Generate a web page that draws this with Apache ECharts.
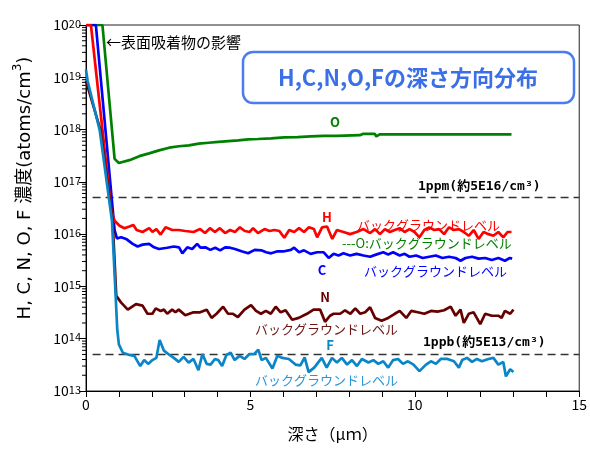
<!DOCTYPE html>
<html><head><meta charset="utf-8">
<script src="https://cdn.jsdelivr.net/npm/echarts@6/dist/echarts.min.js"></script>
<style>html,body{margin:0;padding:0;background:#fff}#c{width:590px;height:450px}</style>
</head><body><div id="c"></div>
<script>
// ---- data (depth in µm, concentration in atoms/cm3) ----
const xTickLabels = [0, 5, 10, 15];
const yExponents = [13, 14, 15, 16, 17, 18, 19, 20];
const ppmLevel = 5e16;
const ppbLevel = 5e13;

const oData = [[0,1e20],[0.5,1e20],[0.87,2.75e17],[1.0,2.3e17],[1.32,2.6e17],[1.62,3.1e17],[1.92,3.5e17],[2.22,4.0e17],[2.53,4.5e17],[2.83,4.8e17],[3.13,5.0e17],[3.43,5.4e17],[3.73,5.6e17],[4.03,5.8e17],[4.33,6.0e17],[4.63,6.2e17],[4.93,6.5e17],[5.23,6.6e17],[5.63,6.8e17],[6.03,7.1e17],[6.43,7.2e17],[6.83,7.4e17],[7.23,7.6e17],[7.63,7.6e17],[8.33,7.8e17],[8.43,8.3e17],[8.78,8.3e17],[8.83,7.4e17],[8.93,8.1e17],[12.94,8.1e17]];

const hData = [[0,1e20],[0.15,1e20],[0.77,2.8e16],[0.87,1.8e16],[1.02,1.45e16],[1.17,1.3e16],[1.32,1.4e16],[1.44,1.5e16],[1.54,1.2e16],[1.72,1.1e16],[1.92,1.3e16],[2.02,1.1e16],[2.14,1.25e16],[2.27,9.8e15],[2.42,1.35e16],[2.62,1.2e16],[2.82,1.2e16],[3.02,1.15e16],[3.27,1.1e16],[3.47,1.25e16],[3.62,1.05e16],[3.77,1.3e16],[3.92,1.1e16],[4.07,1.3e16],[4.23,1.05e16],[4.38,1.2e16],[4.53,1.1e16],[4.68,1.35e16],[4.83,1.15e16],[4.98,1.1e16],[5.08,1.3e16],[5.23,1.05e16],[5.43,1.25e16],[5.58,1.15e16],[5.73,1.2e16],[5.88,1.15e16],[6.03,8.5e15],[6.18,1.2e16],[6.33,1.1e16],[6.48,1.3e16],[6.63,1.1e16],[6.78,1.35e16],[6.93,1.25e16],[7.03,8.7e15],[7.18,1.35e16],[7.33,1.4e16],[7.49,8.1e15],[7.63,1.2e16],[7.83,1.1e16],[8.03,1.0e16],[8.23,1.1e16],[8.44,1.25e16],[8.64,1.05e16],[8.79,1.25e16],[8.94,1.0e16],[9.09,1.25e16],[9.24,1.1e16],[9.39,1.2e16],[9.54,1.3e16],[9.69,1.1e16],[9.84,1.25e16],[9.99,1.1e16],[10.14,8.7e15],[10.29,1.2e16],[10.44,1.35e16],[10.59,1.2e16],[10.74,1.25e16],[10.89,1.0e16],[11.04,1.35e16],[11.19,1.2e16],[11.34,1.25e16],[11.49,1.1e16],[11.64,9.3e15],[11.79,1.2e16],[11.94,8.1e15],[12.09,1.1e16],[12.24,1.0e16],[12.39,9.3e15],[12.54,1.1e16],[12.69,8.7e15],[12.82,1.1e16],[12.94,1.1e16]];

const cData = [[0,1e20],[0.3,1e20],[0.87,1.2e16],[0.94,8.3e15],[1.07,8.7e15],[1.22,8.1e15],[1.42,6.5e15],[1.57,5.8e15],[1.72,6.3e15],[1.92,6.5e15],[2.07,5.6e15],[2.22,5.2e15],[2.47,5.5e15],[2.67,5.8e15],[2.83,5.6e15],[2.93,4.3e15],[3.08,5.6e15],[3.23,5.2e15],[3.38,6.5e15],[3.48,5.5e15],[3.63,5.6e15],[3.78,5.0e15],[3.93,5.5e15],[4.08,4.9e15],[4.23,5.6e15],[4.38,5.5e15],[4.53,5.2e15],[4.73,4.7e15],[4.93,4.3e15],[5.13,5.0e15],[5.33,4.9e15],[5.48,4.5e15],[5.63,4.3e15],[5.83,4.7e15],[6.03,4.7e15],[6.23,5.0e15],[6.33,5.5e15],[6.48,4.5e15],[6.63,4.9e15],[6.83,4.2e15],[7.03,4.5e15],[7.23,4.5e15],[7.38,3.5e15],[7.53,4.2e15],[7.68,3.9e15],[7.83,4.3e15],[8.03,3.9e15],[8.23,4.2e15],[8.44,3.9e15],[8.64,3.7e15],[8.84,4.1e15],[9.04,4.5e15],[9.19,4.1e15],[9.34,4.5e15],[9.54,3.9e15],[9.69,4.2e15],[9.84,3.7e15],[10.04,3.9e15],[10.24,3.5e15],[10.44,3.7e15],[10.64,3.9e15],[10.84,3.5e15],[11.04,3.7e15],[11.24,3.5e15],[11.39,3.1e15],[11.54,3.5e15],[11.74,3.7e15],[11.94,3.4e15],[12.14,3.5e15],[12.34,3.2e15],[12.54,3.5e15],[12.74,3.1e15],[12.89,3.5e15],[12.96,3.4e15]];

const nData = [[0,8.5e18],[0.04,8.1e18],[0.44,9.8e17],[0.81,1.8e16],[0.92,6.6e14],[1.07,4.9e14],[1.27,3.6e14],[1.52,4.6e14],[1.72,4.3e14],[1.87,3.0e14],[2.02,3.0e14],[2.12,3.8e14],[2.27,3.4e14],[2.37,3.6e14],[2.47,3.0e14],[2.62,3.6e14],[2.72,3.2e14],[2.82,3.6e14],[3.02,2.8e14],[3.27,3.2e14],[3.47,3.2e14],[3.67,3.6e14],[3.82,2.5e14],[3.97,3.0e14],[4.17,4.1e14],[4.32,3.0e14],[4.47,3.0e14],[4.62,2.6e14],[4.82,3.6e14],[5.02,4.4e14],[5.17,3.4e14],[5.32,3.0e14],[5.47,3.4e14],[5.62,3.0e14],[5.77,4.1e14],[5.92,3.2e14],[6.07,3.5e14],[6.27,2.3e14],[6.47,2.5e14],[6.72,3.0e14],[6.92,3.6e14],[7.12,3.6e14],[7.27,2.1e14],[7.42,2.75e14],[7.53,3.0e14],[7.73,3.0e14],[7.88,3.5e14],[8.04,3.0e14],[8.19,3.8e14],[8.34,3.0e14],[8.49,3.2e14],[8.64,4.0e14],[8.79,2.5e14],[8.99,2.2e14],[9.19,2.5e14],[9.39,3.0e14],[9.54,3.4e14],[9.74,2.5e14],[9.89,3.4e14],[10.09,3.2e14],[10.29,3.0e14],[10.49,3.4e14],[10.69,3.3e14],[10.89,3.5e14],[11.09,4.1e14],[11.24,2.75e14],[11.39,3.6e14],[11.49,2.0e14],[11.64,3.0e14],[11.79,3.2e14],[11.99,1.9e14],[12.14,3.0e14],[12.34,2.75e14],[12.54,2.75e14],[12.64,2.5e14],[12.74,3.4e14],[12.90,3.0e14],[13.0,3.6e14]];

const fData = [[0,1.4e19],[0.05,8.5e18],[0.42,9.5e17],[0.79,1.8e16],[0.9,7e14],[0.95,1.5e14],[1.0,7.8e13],[1.12,5.4e13],[1.32,4.9e13],[1.47,4.7e13],[1.65,3.0e13],[1.77,3.9e13],[1.89,3.3e13],[2.02,3.9e13],[2.14,4.3e13],[2.24,9.5e13],[2.37,5.9e13],[2.52,5.0e13],[2.67,4.3e13],[2.82,3.6e13],[2.97,4.5e13],[3.12,3.5e13],[3.27,4.1e13],[3.42,2.5e13],[3.54,5.1e13],[3.67,3.3e13],[3.79,3.2e13],[3.92,4.1e13],[4.02,3.9e13],[4.14,3.0e13],[4.27,4.9e13],[4.40,5.4e13],[4.52,3.9e13],[4.67,4.7e13],[4.82,4.1e13],[4.97,5.1e13],[5.12,5.1e13],[5.24,6.2e13],[5.34,3.9e13],[5.47,4.3e13],[5.67,2.7e13],[5.82,4.7e13],[5.97,4.3e13],[6.17,4.1e13],[6.37,3.2e13],[6.52,3.1e13],[6.65,4.4e13],[6.77,2.3e13],[6.94,2.8e13],[7.17,4.3e13],[7.32,2.8e13],[7.48,4.3e13],[7.63,3.5e13],[7.78,4.3e13],[7.94,3.2e13],[8.09,3.9e13],[8.24,3.0e13],[8.39,4.1e13],[8.59,3.5e13],[8.74,3.9e13],[8.89,3.3e13],[9.04,3.7e13],[9.19,2.8e13],[9.34,3.9e13],[9.49,4.1e13],[9.64,3.3e13],[9.79,3.7e13],[9.96,3.2e13],[10.14,2.4e13],[10.34,3.2e13],[10.49,3.7e13],[10.64,3.3e13],[10.79,4.1e13],[10.99,4.1e13],[11.19,3.7e13],[11.34,2.8e13],[11.44,3.9e13],[11.59,4.3e13],[11.74,3.6e13],[11.89,4.1e13],[12.04,3.7e13],[12.24,4.1e13],[12.39,4.3e13],[12.54,3.2e13],[12.69,3.6e13],[12.77,1.9e13],[12.90,2.6e13],[13.0,2.3e13]];

const refLineStart = 0.2, refLineEnd = 15;

// ---- chart ----
const minorTickData = [];
for (let e = yExponents[0]; e < yExponents[yExponents.length - 1]; e++) {
  for (let m = 2; m <= 9; m++) minorTickData.push([0, m * Math.pow(10, e)]);
}
const JP = '"Noto Sans CJK JP", sans-serif';
const colors = { O: '#008000', H: '#ff0000', C: '#0000ff', N: '#660000', F: '#0a86c8' };

function lineSeries(name, data, color) {
  return { name, type: 'line', data, showSymbol: false, symbol: 'none', z: 3,
    lineStyle: { color, width: 2.7 }, itemStyle: { color }, animation: false };
}
function refLine(level) {
  return { type: 'line', data: [[refLineStart, level], [refLineEnd, level]], symbol: 'none', z: 2,
    lineStyle: { color: '#333', width: 1.5, type: [8, 5] }, animation: false, silent: true };
}
function txt(x, y, text, fill, font, align) {
  return { type: 'text', x, y, z: 10, style: { text, fill, font, align: align || 'left', verticalAlign: 'middle' } };
}

const chart = echarts.init(document.getElementById('c'), null, { renderer: 'canvas' });
chart.setOption({
  animation: false,
  backgroundColor: '#fff',
  grid: { left: 86, right: 5, top: 25, bottom: 59, show: true, borderColor: '#222', borderWidth: 1, backgroundColor: 'transparent' },
  xAxis: {
    type: 'value', min: xTickLabels[0], max: xTickLabels[xTickLabels.length - 1], interval: 1,
    axisLine: { lineStyle: { color: '#000', width: 1 } },
    axisTick: { show: true, length: 6, lineStyle: { color: '#000' } },
    splitLine: { show: false },
    axisLabel: { color: '#000', fontSize: 14, fontFamily: JP, margin: 7,
      formatter: v => (xTickLabels.indexOf(v) >= 0 ? String(v) : '') },
    name: '深さ（μｍ）', nameLocation: 'middle', nameGap: 35,
    nameTextStyle: { color: '#000', fontSize: 16, fontFamily: JP }
  },
  yAxis: {
    type: 'log', logBase: 10, min: Math.pow(10, yExponents[0]), max: Math.pow(10, yExponents[yExponents.length - 1]), interval: 1,
    axisLine: { show: true, lineStyle: { color: '#000', width: 1 } },
    axisTick: { show: true, length: 7, lineStyle: { color: '#000' } },
    splitLine: { show: false },
    axisLabel: {
      color: '#000', margin: 5,
      formatter: v => '{b|10}{s|' + Math.round(Math.log10(v)) + '}',
      rich: {
        b: { fontSize: 14, fontFamily: JP, lineHeight: 14, padding: [8, 0, 0, 0], verticalAlign: 'bottom', color: '#000' },
        s: { fontSize: 11, fontFamily: JP, lineHeight: 11, verticalAlign: 'top', color: '#000' }
      }
    }
  },
  series: [
    refLine(ppmLevel), refLine(ppbLevel),
    lineSeries('O', oData, colors.O),
    lineSeries('C', cData, colors.C),
    lineSeries('H', hData, colors.H),
    lineSeries('N', nData, colors.N),
    lineSeries('F', fData, colors.F),
    { type: 'custom', data: minorTickData, clip: false, silent: true, z: 5, encode: { x: 0, y: 1 },
      renderItem: function (params, api) {
        const p = api.coord([0, api.value(1)]);
        return { type: 'line', shape: { x1: p[0] - 4, y1: p[1], x2: p[0], y2: p[1] }, style: { stroke: '#000', lineWidth: 1 } };
      } }
  ],
  graphic: [
    { type: 'rect', z: 9, shape: { x: 243, y: 52, width: 331, height: 51, r: 10 }, style: { fill: '#fff', stroke: '#4a7ef0', lineWidth: 2.5 } },
    txt(408, 78, 'H,C,N,O,Fの深さ方向分布', '#3a6fe8', 'bold 22px ' + JP, 'center'),
    txt(106, 42, '←表面吸着物の影響', '#000', '15px ' + JP),
    txt(335, 122, 'O', colors.O, 'bold 13px ' + JP, 'center'),
    txt(418, 187, '1ppm(約5E16/cm³)', '#000', 'bold 13px "DejaVu Sans Mono", ' + JP),
    txt(327, 217, 'H', colors.H, 'bold 13px ' + JP, 'center'),
    txt(357, 225, 'バックグラウンドレベル', colors.H, '13px ' + JP),
    txt(342, 243, '---O:バックグラウンドレベル', colors.O, '13px ' + JP),
    txt(322, 270, 'C', colors.C, 'bold 13px ' + JP, 'center'),
    txt(364, 271, 'バックグラウンドレベル', colors.C, '13px ' + JP),
    txt(325, 297, 'N', colors.N, 'bold 13px ' + JP, 'center'),
    txt(255, 329, 'バックグラウンドレベル', '#6b1515', '13px ' + JP),
    txt(330, 345, 'F', colors.F, 'bold 13px ' + JP, 'center'),
    txt(423, 343, '1ppb(約5E13/cm³)', '#000', 'bold 13px "DejaVu Sans Mono", ' + JP),
    txt(255, 380, 'バックグラウンドレベル', '#2a96d8', '13px ' + JP),
    { type: 'text', x: 23, y: 188, rotation: Math.PI / 2, z: 10,
      style: { text: '{a|H, C, N, O, F 濃度(atoms/cm}{s|3}{a|)}', align: 'center', verticalAlign: 'middle',
        rich: { a: { fontSize: 18, fontFamily: '"DejaVu Sans", ' + JP, fill: '#000', lineHeight: 22, verticalAlign: 'bottom' },
                s: { fontSize: 12, fontFamily: '"DejaVu Sans"', fill: '#000', lineHeight: 12, verticalAlign: 'top' } } } }
  ]
});
</script>
</body></html>
